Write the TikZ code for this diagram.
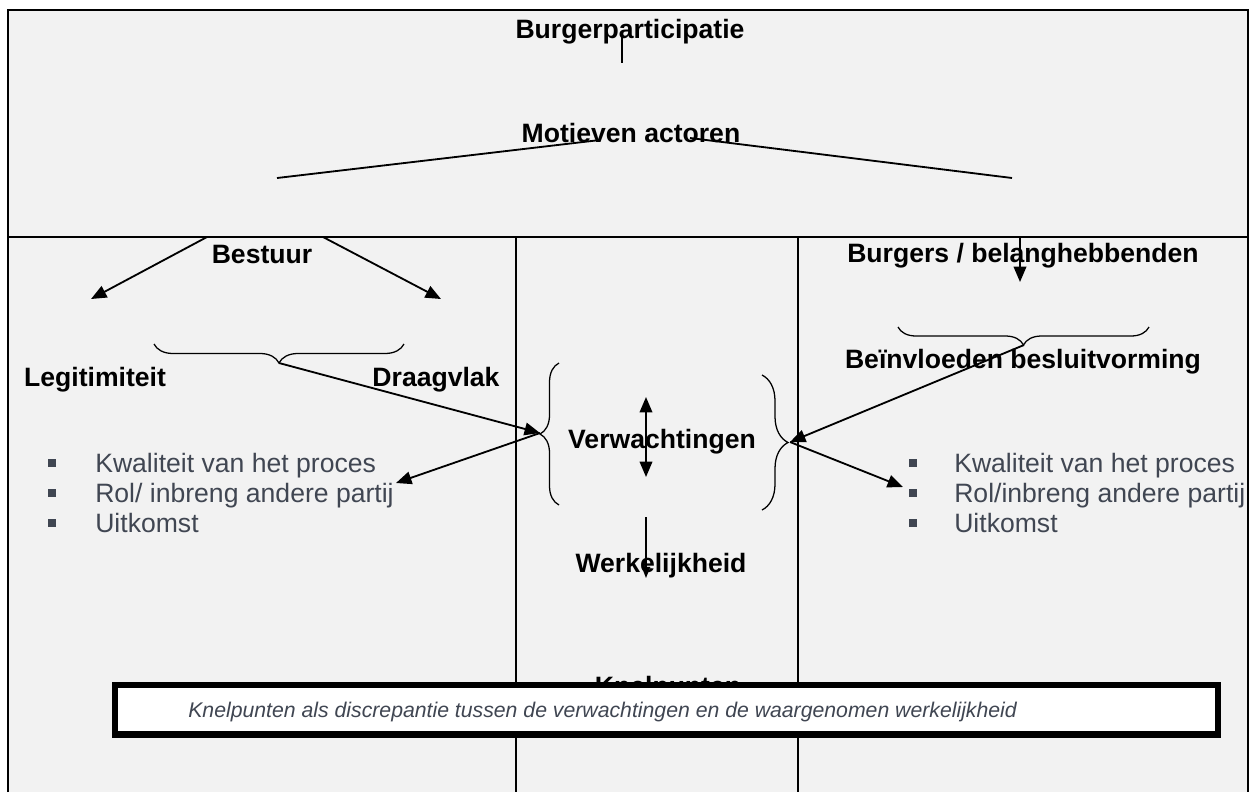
\documentclass[tikz,border=0pt]{standalone}
\usepackage{fontspec}
\setmainfont{Liberation Sans}
\usepackage{xcolor}
\usetikzlibrary{arrows.meta,decorations.pathreplacing}
\definecolor{paneel}{HTML}{F2F2F2}
\definecolor{puntgrijs}{HTML}{404652}

\begin{document}
\begin{tikzpicture}[x=0.025cm,y=-0.025cm,
  kop/.style={font=\fontsize{18.9}{22}\selectfont\bfseries, inner sep=0pt, anchor=base},
  punt/.style={font=\fontsize{18.9}{22}\selectfont, text=puntgrijs, inner sep=0pt, anchor=base west},
  pijl/.style={line width=1.3pt, -{Triangle[length=11pt,width=9pt]}},
  lijn/.style={line width=1.3pt},
  accolade/.style={decorate, decoration={brace, amplitude=#1}, line width=0.9pt}]
  \useasboundingbox (0,0) rectangle (1252,792);
  \fill[paneel] (8,10) rectangle (1248,792);
  \draw[line width=1.4pt] (8,792) -- (8,10) -- (1248,10) -- (1248,792);
  \draw[line width=1pt] (8,237) -- (1248,237);
  \draw[line width=1pt] (516,237) -- (516,792);
  \draw[line width=1pt] (798,237) -- (798,792);

  \node[kop] (titel) at (630,38) {Burgerparticipatie};
  \node[kop] (motief) at (631,142) {Motieven actoren};
  \node[kop] (bestuur) at (262,263) {Bestuur};
  \node[kop] (burgers) at (1023,262) {Burgers / belanghebbenden};
  \node[kop] (legit) at (95,386) {Legitimiteit};
  \node[kop] (draag) at (436,386) {Draagvlak};
  \node[kop] (beinv) at (1023,368) {Beïnvloeden besluitvorming};
  \node[kop] (verw) at (662,448) {Verwachtingen};
  \node[kop] (werk) at (661,572) {Werkelijkheid};
  \node[kop] (knel) at (668,695) {Knelpunten};

  \foreach \y/\tekst [count=\i] in {472/{Kwaliteit van het proces},502/{Rol/ inbreng andere partij},532/{Uitkomst}} {
    \fill[puntgrijs] (52,\y-9) +(-4,-4) rectangle +(4,4);
    \node[punt] (puntL\i) at (95,\y) {\tekst};
  }
  \foreach \y/\tekst [count=\i] in {472/{Kwaliteit van het proces},502/{Rol/inbreng andere partij},532/{Uitkomst}} {
    \fill[puntgrijs] (913,\y-9) +(-4,-4) rectangle +(4,4);
    \node[punt] (puntR\i) at (954,\y) {\tekst};
  }

  \draw[accolade=13.5pt] (404,344) -- (154,344);
  \draw[accolade=12.8pt] (1149,327) -- (898,327);
  \draw[accolade=13.5pt] (559,505) -- (559,363);
  \draw[accolade=18.5pt] (762,375) -- (762,510);

  \coordinate (titelVoet) at (622,33);
  \coordinate (motiefTop) at (622,63);
  \coordinate (motiefL) at (600,140);
  \coordinate (motiefR) at (690,138);
  \coordinate (takL) at (277,178);
  \coordinate (takR) at (1012,178);
  \coordinate (bestuurL) at (207,237);
  \coordinate (bestuurR) at (323,237);
  \coordinate (legitPijl) at (91,299);
  \coordinate (draagPijl) at (441,299);
  \coordinate (burgersTop) at (1020,237);
  \coordinate (burgersPijl) at (1020,282);
  \coordinate (legitTip) at (279,363);
  \coordinate (beinvTip) at (1024,345);
  \coordinate (verwL) at (540,433);
  \coordinate (verwR) at (790,442);
  \coordinate (lijstL) at (396,483);
  \coordinate (lijstR) at (903,487);
  \coordinate (verwBoven) at (646,397);
  \coordinate (verwOnder) at (646,477);
  \coordinate (werkTop) at (646,517);
  \coordinate (werkPijl) at (646,578);

  \draw[line width=1pt] (titelVoet) -- (motiefTop);
  \draw[lijn] (motiefL) -- (takL);
  \draw[lijn] (motiefR) -- (takR);
  \draw[pijl] (bestuurL) -- (legitPijl);
  \draw[pijl] (bestuurR) -- (draagPijl);
  \draw[pijl] (burgersTop) -- (burgersPijl);
  \draw[pijl] (legitTip) -- (verwL);
  \draw[pijl] (verwL) -- (lijstL);
  \draw[pijl] (beinvTip) -- (verwR);
  \draw[pijl] (verwR) -- (lijstR);
  \draw[lijn, {Triangle[length=11pt,width=9pt]}-{Triangle[length=11pt,width=9pt]}] (verwBoven) -- (verwOnder);
  \draw[line width=1.1pt, -{Triangle[length=8pt,width=6pt]}] (werkTop) -- (werkPijl);

  \draw[line width=4.3pt, fill=white] (115,685) rectangle (1218,734.5);
  \node[font=\fontsize{15.1}{18}\selectfont\itshape, text=puntgrijs, inner sep=0pt, anchor=base west] (knelzin) at (188,717) {Knelpunten als discrepantie tussen de verwachtingen en de waargenomen werkelijkheid};
\end{tikzpicture}
\end{document}
